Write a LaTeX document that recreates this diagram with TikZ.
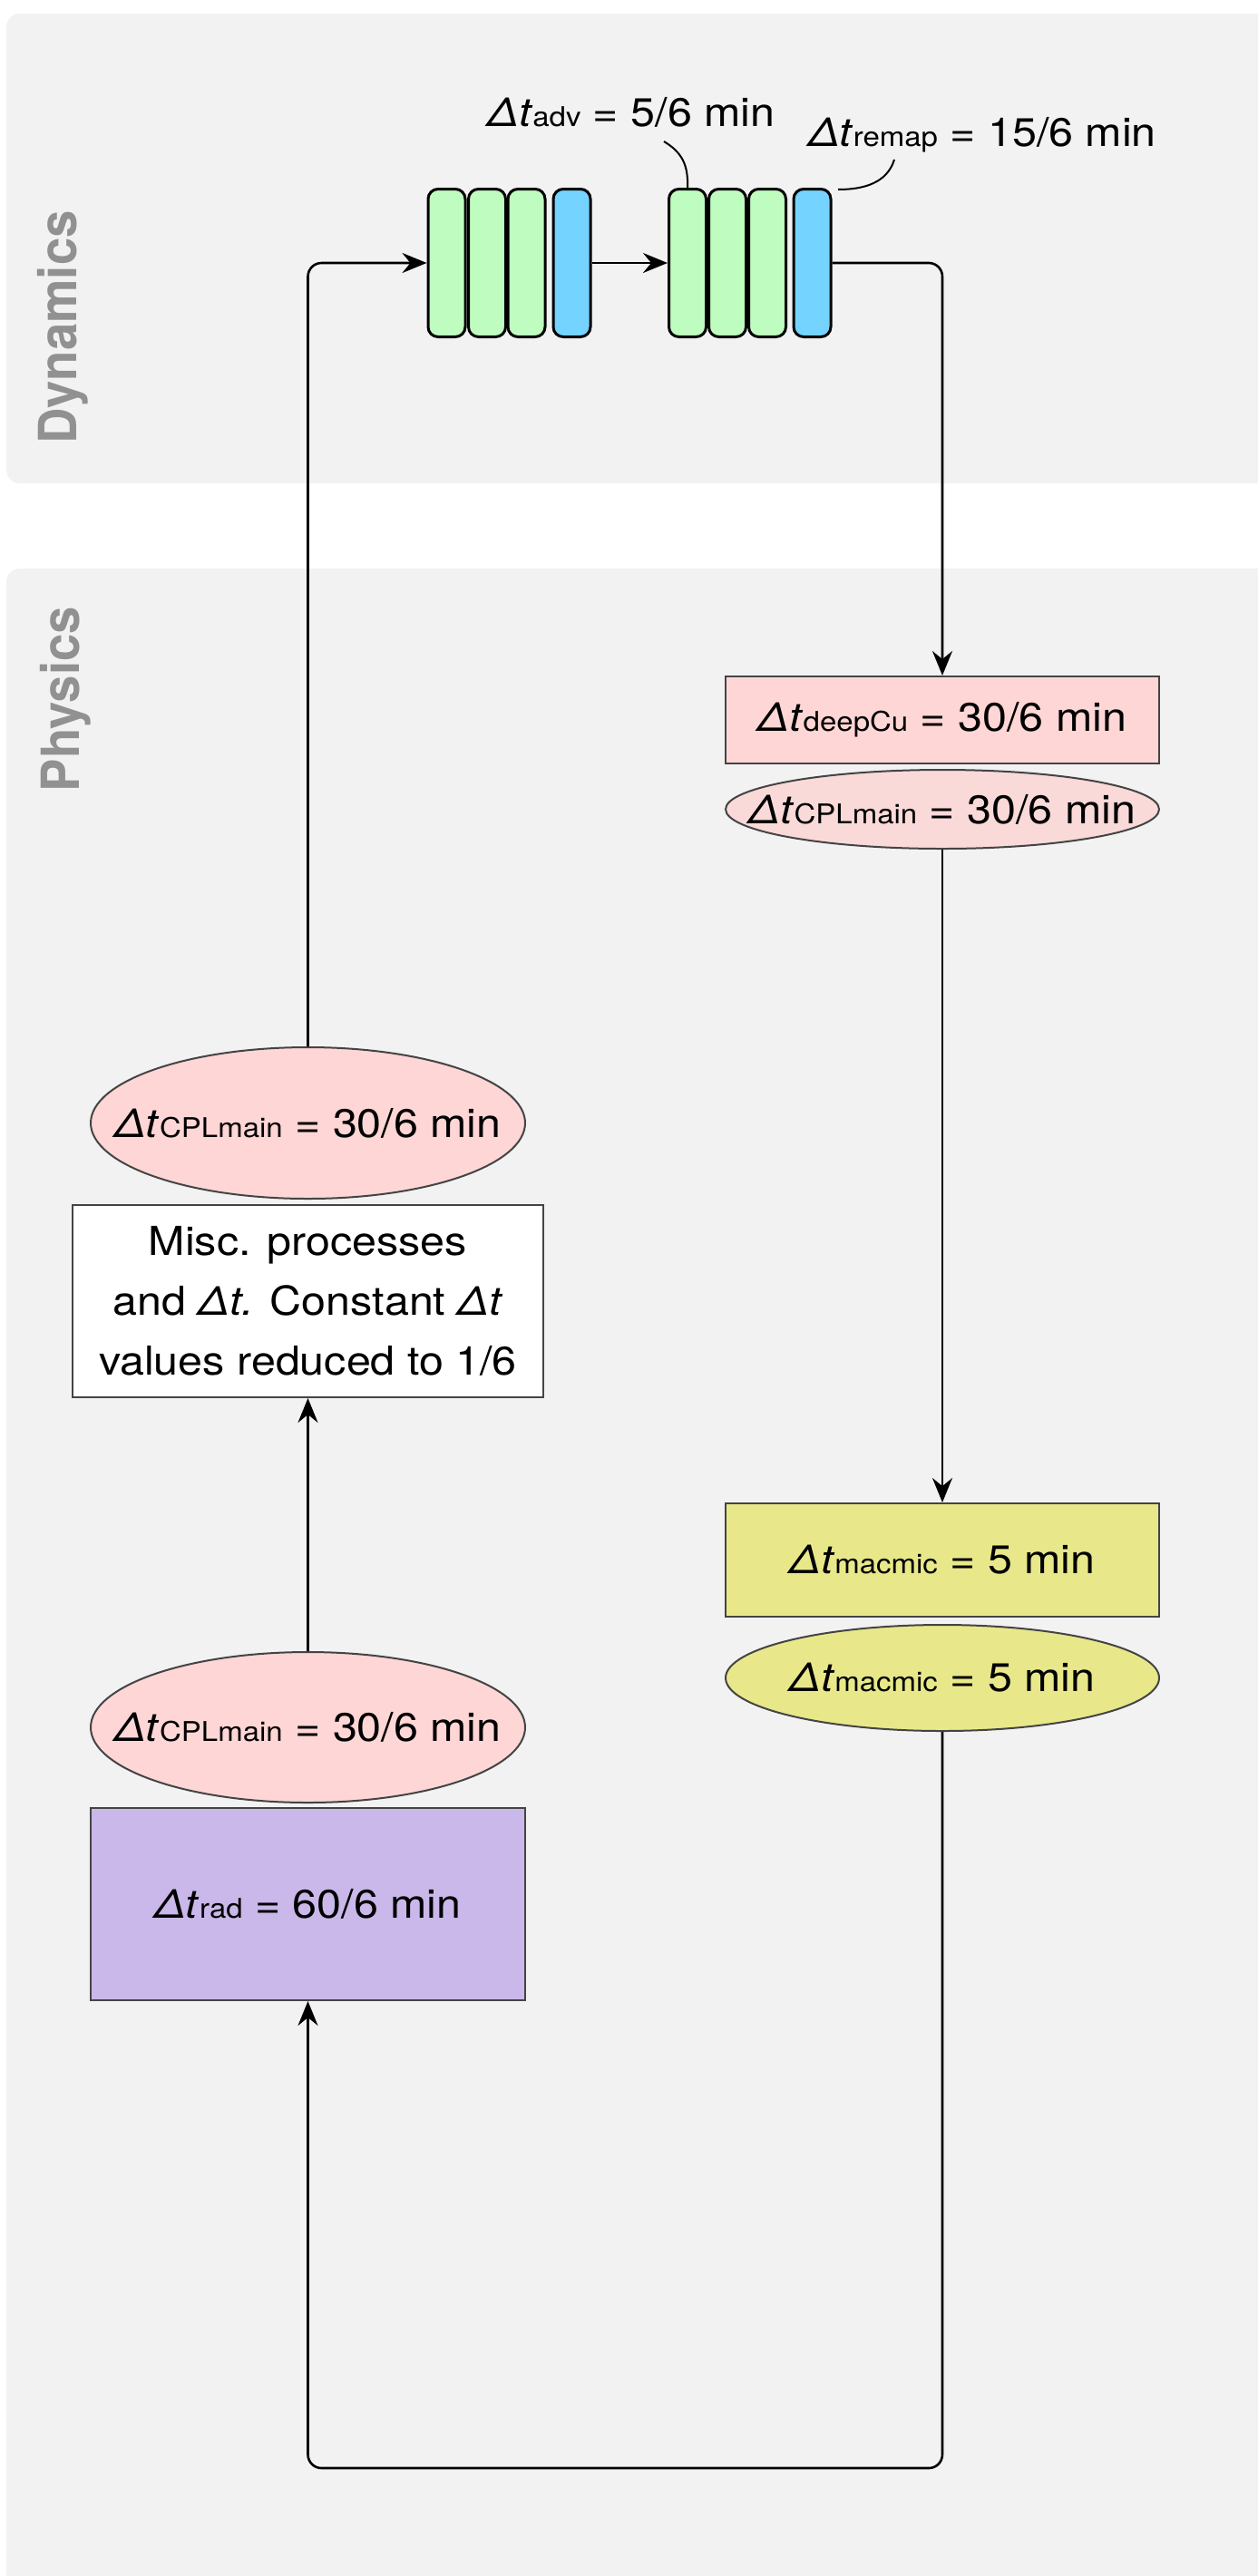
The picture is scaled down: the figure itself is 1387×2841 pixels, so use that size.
\documentclass[tikz,border=0pt]{standalone}
\usepackage{fontspec}
\setmainfont{TeX Gyre Heros}[FakeStretch=1.1]
\newfontfamily\lblfont{TeX Gyre Heros}[FakeStretch=0.94]
\usetikzlibrary{shapes.geometric,arrows.meta}
\definecolor{panelbg}{HTML}{F2F2F2}
\definecolor{barg}{HTML}{BFFCBF}
\definecolor{barb}{HTML}{75D3FF}
\definecolor{pinkf}{HTML}{FFD6D6}
\definecolor{pinke}{HTML}{FAD9D9}
\definecolor{yelf}{HTML}{E8E88A}
\definecolor{lavf}{HTML}{C9B8E9}
\definecolor{lblgray}{HTML}{919191}
\definecolor{shapestroke}{HTML}{444444}
\newcommand\dtsub[1]{\textit{Δt}{\fontsize{30}{30}\selectfont #1}}
\newcommand\zw[1]{\makebox[0pt]{#1}}
\tikzset{
  bar/.style={draw=black, line width=3pt, rounded corners=11pt, minimum width=41pt, minimum height=163pt, inner sep=0pt},
  greenbar/.style={bar, fill=barg},
  bluebar/.style={bar, fill=barb},
  txt/.style={font=\fontsize{44}{53}\selectfont, inner sep=0pt},
  boxshape/.style={draw=shapestroke, line width=2pt, inner sep=0pt, align=center, font=\fontsize{44}{66}\selectfont},
  ellshape/.style={ellipse, draw=shapestroke, line width=2pt, inner sep=0pt, font=\fontsize{44}{53}\selectfont},
  conn/.style={draw=black, line width=2.6pt, rounded corners=15pt},
  arr/.style={conn, -{Stealth[length=27pt, width=22pt, inset=9pt]}},
  callout/.style={draw=black, line width=2pt},
  lbl/.style={rotate=90, anchor=base, text=lblgray, font=\lblfont\bfseries\fontsize{58}{66}\selectfont, inner sep=0pt}
}
\begin{document}
\begin{tikzpicture}[x=1pt, y=-1pt]
\useasboundingbox (0,0) rectangle (1387,2841);
\fill[white] (0,0) rectangle (1387,2841);
\begin{scope}
\clip (0,0) rectangle (1387,2841);
\fill[panelbg, rounded corners=15pt] (7,15) rectangle (1420,533);
\fill[panelbg, rounded corners=15pt] (7,627) rectangle (1420,2880);
\end{scope}
\node[lbl] (dynlbl) at (84,361) {Dynamics};
\node[lbl] (phylbl) at (87,771) {Physics};

% dynamics bars
\node[greenbar] (g1a) at (492.5,290) {};
\node[greenbar] (g1b) at (537,290) {};
\node[greenbar] (g1c) at (580.5,290) {};
\node[bluebar]  (g1d) at (630.5,290) {};
\node[greenbar] (g2a) at (758,290) {};
\node[greenbar] (g2b) at (802,290) {};
\node[greenbar] (g2c) at (846,290) {};
\node[bluebar]  (g2d) at (895.5,290) {};

\node[txt, anchor=base] (advtxt) at (696,139) {\dtsub{adv} = 5/6 min};
\node[txt, anchor=base] (remaptxt) at (1083,161) {\dtsub{remap} = 15/6 min};
\coordinate (advs) at (732,156);
\coordinate (remaps) at (986,176);
\draw[callout] (advs) .. controls (752,168) and (759,182) .. (g2a.north);
\draw[callout] (remaps) .. controls (978,202) and (952,209) .. (924,209);

% physics right column
\node[boxshape, fill=pinkf, minimum width=478pt, minimum height=96pt] (deep) at (1039,794) {\dtsub{deepCu} = 30/6 min};
\node[ellshape, fill=pinke, minimum width=478pt, minimum height=87pt] (cplR) at (1039,892.5) {\zw{\dtsub{CPLmain} = 30/6 min}};
\node[boxshape, fill=yelf, minimum width=478pt, minimum height=125pt] (macB) at (1039,1720.5) {\dtsub{macmic} = 5 min};
\node[ellshape, fill=yelf, minimum width=478pt, minimum height=117pt] (macE) at (1039,1850.5) {\zw{\dtsub{macmic} = 5 min}};

% physics left column
\node[ellshape, fill=pinkf, minimum width=479pt, minimum height=167pt] (cplL1) at (339.5,1238.5) {\zw{\dtsub{CPLmain} = 30/6 min}};
\node[boxshape, fill=white, minimum width=519pt, minimum height=212pt] (misc) at (339.5,1435) {Misc. processes\\and \textit{Δt.} Constant \textit{Δt}\\values reduced to 1/6};
\node[ellshape, fill=pinkf, minimum width=479pt, minimum height=166pt] (cplL2) at (339.5,1905) {\zw{\dtsub{CPLmain} = 30/6 min}};
\node[boxshape, fill=lavf, minimum width=479pt, minimum height=212pt] (rad) at (339.5,2100) {\dtsub{rad} = 60/6 min};

% connectors
\coordinate (br) at (1039,2722);
\coordinate (bl) at (339.5,2722);
\draw[arr] (g1d.east) -- (g2a.west);
\draw[arr] (g2d.east) -| (deep.north);
\draw[arr] (cplR.south) -- (macB.north);
\draw[arr] (macE.south) -- (br) -- (bl) -- (rad.south);
\draw[arr] (cplL2.north) -- (misc.south);
\draw[arr] (cplL1.north) |- (g1a.west);
\end{tikzpicture}
\end{document}
